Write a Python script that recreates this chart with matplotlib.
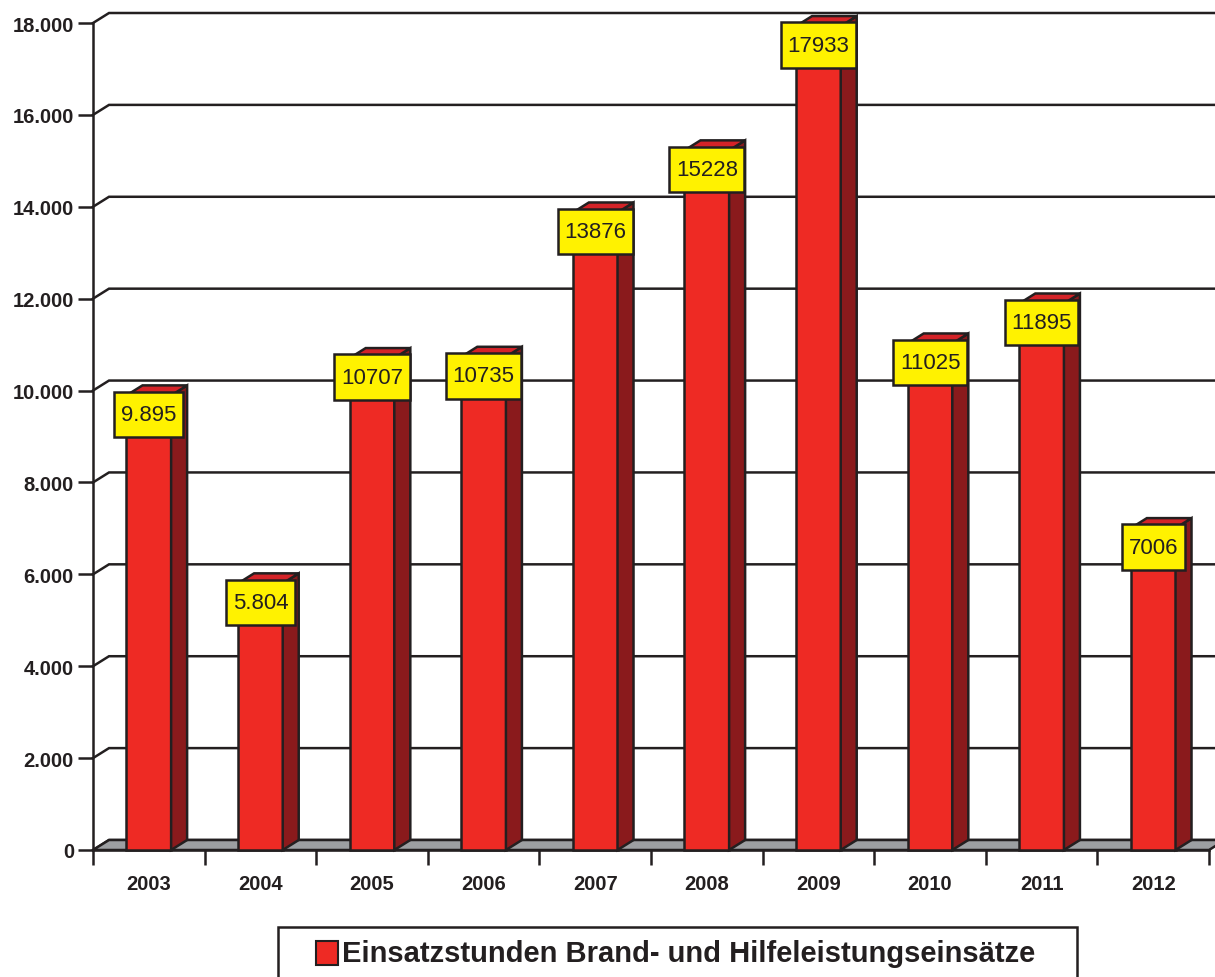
import matplotlib
matplotlib.use("Agg")
import matplotlib.pyplot as plt
from matplotlib.patches import Polygon, Rectangle
from matplotlib.ticker import FuncFormatter, FixedLocator

# --- data -------------------------------------------------------------
years = ["2003", "2004", "2005", "2006", "2007", "2008", "2009", "2010", "2011", "2012"]
hours = [9895, 5804, 10707, 10735, 13876, 15228, 17933, 11025, 11895, 7006]
value_labels = ["9.895", "5.804", "10707", "10735", "13876", "15228", "17933",
                "11025", "11895", "7006"]
series_name = "Einsatzstunden Brand- und Hilfeleistungseinsätze"
y_ticks = list(range(0, 18001, 2000))

# --- style ------------------------------------------------------------
plt.rcParams["font.family"] = ["Liberation Sans", "DejaVu Sans"]
INK = "#231F20"
FRONT = "#EE2A24"
SIDE = "#8A1A1C"
TOP = "#D42328"
FLOOR = "#9D9FA2"
LABEL_BG = "#FFF200"
LW = 1.8

W, H, DPI = 1215, 978, 100
fig = plt.figure(figsize=(W / DPI, H / DPI), dpi=DPI)
fig.patch.set_facecolor("white")

# plot area in pixel coordinates (from top-left)
PX_L, PX_R, PX_B, PX_T = 93, 1209, 851, 24
ax = fig.add_axes([PX_L / W, (H - PX_B) / H, (PX_R - PX_L) / W, (PX_B - PX_T) / H])
n = len(years)
ymax = 18000
ax.set_xlim(0, n)
ax.set_ylim(0, ymax)
ax.patch.set_alpha(0)

# 3D depth offset, converted to data units
DX_PX, DY_PX = 16, 10
dx = DX_PX * n / (PX_R - PX_L)
dy = DY_PX * ymax / (PX_B - PX_T)

# back wall grid lines, kinked at the left wall
for v in y_ticks:
    ax.plot([0, dx, n + 1], [v, v + dy, v + dy], color=INK, lw=LW,
            clip_on=False, zorder=1, solid_joinstyle="miter")

# grey floor
ax.add_patch(Polygon([(0, 0), (dx, dy), (n + dx, dy), (n, 0)], closed=True,
                     facecolor=FLOOR, edgecolor=INK, lw=LW, clip_on=False,
                     zorder=1.5, joinstyle="miter"))

# bars: front face from ax.bar, side and top as polygons
bar_w = 0.4
xs = [i + 0.5 for i in range(n)]
bars = ax.bar(xs, hours, width=bar_w, color=FRONT, edgecolor=INK, lw=LW,
              zorder=3, clip_on=False)
for x, v in zip(xs, hours):
    xl, xr = x - bar_w / 2, x + bar_w / 2
    ax.add_patch(Polygon([(xr, 0), (xr + dx, dy), (xr + dx, v + dy), (xr, v)],
                         closed=True, facecolor=SIDE, edgecolor=INK, lw=LW,
                         zorder=3, clip_on=False, joinstyle="miter"))
    ax.add_patch(Polygon([(xl, v), (xl + dx, v + dy), (xr + dx, v + dy), (xr, v)],
                         closed=True, facecolor=TOP, edgecolor=INK, lw=LW,
                         zorder=3, clip_on=False, joinstyle="miter"))

# value boxes (more vertical than horizontal padding via mutation_aspect)
for x, v, lbl in zip(xs, hours, value_labels):
    ax.annotate(lbl, xy=(x, v), xytext=(0, -19), textcoords="offset pixels",
                ha="center", va="center", fontsize=16, color=INK,
                bbox=dict(boxstyle="square,pad=0.3", facecolor=LABEL_BG,
                          edgecolor=INK, lw=LW, mutation_aspect=1.85),
                zorder=6, annotation_clip=False)

# axes
for side in ("top", "right"):
    ax.spines[side].set_visible(False)
for side in ("left", "bottom"):
    ax.spines[side].set_color(INK)
    ax.spines[side].set_linewidth(LW)
    ax.spines[side].set_zorder(2)

ax.set_yticks(y_ticks)
ax.yaxis.set_major_formatter(FuncFormatter(lambda v, _: f"{int(v):,}".replace(",", ".")))
ax.tick_params(axis="y", direction="out", length=10.8, width=LW, color=INK,
               pad=2.9, labelsize=14.5, labelcolor=INK)
for t in ax.get_yticklabels():
    t.set_fontweight("bold")

ax.set_xticks(range(0, n + 1))
ax.set_xticklabels([])
ax.xaxis.set_minor_locator(FixedLocator(xs))
ax.set_xticks(xs, labels=years, minor=True)
ax.tick_params(axis="x", which="major", direction="out", length=10.8,
               width=LW, color=INK)
ax.tick_params(axis="x", which="minor", length=0, pad=17, labelsize=14.5,
               labelcolor=INK)
for t in ax.get_xticklabels(minor=True):
    t.set_fontweight("bold")

# legend box at the bottom, running off the lower edge
fig.add_artist(Rectangle((278 / W, -0.05), (1077 - 278) / W, 0.05 + (H - 928) / H,
                         transform=fig.transFigure, facecolor="white",
                         edgecolor=INK, lw=LW))
fig.add_artist(Rectangle((316 / W, (H - 966) / H), 22 / W, 24 / H,
                         transform=fig.transFigure, facecolor=FRONT,
                         edgecolor=INK, lw=1.5))
fig.text(342 / W, (H - 954) / H, series_name, ha="left", va="center",
         fontsize=21, fontweight="bold", color=INK)

fig.savefig("out.png", dpi=DPI)
